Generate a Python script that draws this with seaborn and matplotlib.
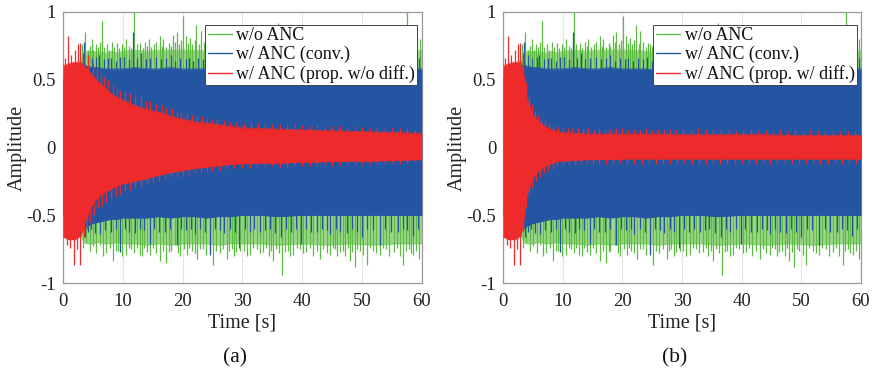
import matplotlib
matplotlib.use("Agg")
import matplotlib.pyplot as plt
import seaborn as sns
import pandas as pd
from matplotlib.lines import Line2D

# ---------------- data ----------------
time_s = [0, 1, 2, 3, 3.5, 4, 5, 6, 7, 8, 9, 10, 12, 14, 16, 18, 20, 22, 24, 26,
          28, 30, 33, 36, 40, 44, 48, 52, 56, 60]

# envelopes of the dense signals (upper / lower)
green_hi = [0.50, 0.55, 0.58, 0.66, 0.70, 0.71, 0.71, 0.71, 0.70, 0.71, 0.70, 0.71, 0.72, 0.71, 0.72,
            0.72, 0.72, 0.72, 0.71, 0.71, 0.71, 0.70, 0.70, 0.70, 0.69, 0.69, 0.69, 0.69, 0.70, 0.72]
green_lo = [-0.50, -0.55, -0.60, -0.66, -0.70, -0.71, -0.71, -0.70, -0.71, -0.71, -0.70, -0.71, -0.71,
            -0.72, -0.71, -0.72, -0.71, -0.71, -0.71, -0.72, -0.71, -0.71, -0.71, -0.72, -0.71, -0.72,
            -0.71, -0.72, -0.71, -0.71]
blue_hi = [0.50, 0.52, 0.55, 0.60, 0.61, 0.60, 0.59, 0.59, 0.58, 0.58, 0.58, 0.58, 0.59, 0.58, 0.58,
           0.59, 0.58, 0.58, 0.58, 0.57, 0.58, 0.58, 0.57, 0.58, 0.57, 0.58, 0.57, 0.57, 0.58, 0.58]
blue_lo = [-0.50, -0.52, -0.55, -0.60, -0.60, -0.58, -0.56, -0.55, -0.54, -0.53, -0.53, -0.52, -0.52,
           -0.52, -0.51, -0.52, -0.51, -0.51, -0.52, -0.51, -0.51, -0.50, -0.50, -0.51, -0.50, -0.50,
           -0.50, -0.50, -0.50, -0.50]
red_a_hi = [0.60, 0.62, 0.63, 0.63, 0.60, 0.58, 0.53, 0.48, 0.44, 0.40, 0.37, 0.35, 0.31, 0.28, 0.26,
            0.23, 0.21, 0.19, 0.18, 0.17, 0.155, 0.145, 0.14, 0.135, 0.13, 0.125, 0.12, 0.115, 0.11, 0.105]
red_a_lo = [-0.66, -0.68, -0.68, -0.65, -0.58, -0.51, -0.41, -0.36, -0.33, -0.31, -0.28, -0.27, -0.25,
            -0.23, -0.205, -0.185, -0.17, -0.155, -0.145, -0.135, -0.125, -0.12, -0.115, -0.115, -0.11,
            -0.105, -0.10, -0.10, -0.095, -0.09]
red_b_hi = [0.60, 0.62, 0.63, 0.63, 0.53, 0.36, 0.24, 0.19, 0.155, 0.135, 0.12, 0.11, 0.105, 0.10, 0.10,
            0.10, 0.10, 0.10, 0.10, 0.10, 0.095, 0.095, 0.095, 0.095, 0.095, 0.095, 0.09, 0.09, 0.09, 0.09]
red_b_lo = [-0.66, -0.68, -0.68, -0.65, -0.53, -0.34, -0.22, -0.17, -0.14, -0.12, -0.105, -0.10, -0.095,
            -0.09, -0.09, -0.09, -0.085, -0.085, -0.085, -0.085, -0.085, -0.085, -0.085, -0.085, -0.085,
            -0.085, -0.085, -0.085, -0.085, -0.085]

# individual peaks sticking out of the envelopes
green_up_t = [3.2, 3.7, 4.1, 4.5, 4.8, 5.1, 5.5, 5.9, 6.2, 6.5, 6.9, 7.3, 7.7, 8.2, 8.6, 9.0, 9.4, 9.8,
              10.2, 10.6, 11.0, 11.4, 11.9, 12.3, 12.9, 13.3, 13.7, 14.0, 14.3, 14.8, 15.2, 15.6, 16.2,
              16.5, 16.8, 17.3, 17.7, 18.0, 18.4, 18.7, 19.0, 19.4, 19.7, 20.1, 20.6, 20.9, 21.2, 21.6,
              22.0, 22.3, 22.7, 23.0, 23.5, 24.0, 24.3, 24.6, 25.0, 25.5, 25.9, 26.4, 26.8, 27.3, 27.7,
              28.2, 28.6, 29.0, 29.5, 30.0, 36.0, 57.5, 58.2, 58.8, 59.2, 59.7]
green_up_v = [0.76, 0.85, 0.72, 0.75, 0.80, 0.72, 0.76, 0.74, 0.78, 0.93, 0.74, 0.76, 0.72, 0.78, 0.74,
              0.77, 0.73, 0.76, 0.74, 0.80, 0.75, 0.73, 1.00, 0.76, 0.77, 0.73, 0.78, 0.75, 0.80, 0.74,
              0.76, 0.78, 0.82, 0.75, 0.80, 0.74, 0.77, 0.75, 0.83, 0.78, 0.85, 0.76, 0.79, 0.97, 0.82,
              0.77, 0.81, 0.76, 0.79, 0.90, 0.76, 0.86, 0.78, 0.74, 0.77, 0.76, 0.75, 0.80, 0.74, 0.78,
              0.75, 0.80, 0.74, 0.76, 0.79, 0.78, 0.74, 0.77, 0.92, 1.00, 0.78, 0.76, 0.82, 0.80]
green_dn_t = [3.3, 3.8, 4.5, 5.0, 5.6, 6.2, 6.7, 7.2, 7.8, 8.4, 8.9, 9.2, 9.8, 10.6, 11.0, 11.4, 11.9,
              12.3, 12.8, 13.2, 13.6, 14.0, 14.5, 15.0, 15.5, 16.2, 16.7, 17.3, 17.7, 18.0, 18.8, 19.2,
              19.6, 20.2, 20.7, 21.1, 21.5, 22.0, 22.4, 22.9, 23.4, 23.9, 24.6, 25.1, 25.6, 26.2, 26.8,
              27.4, 27.8, 28.2, 28.6, 29.0, 29.6, 30.2, 30.7, 31.3, 31.8, 32.4, 32.9, 33.5, 34.0, 34.4,
              34.8, 35.2, 35.7, 36.2, 36.7, 37.2, 37.6, 38.0, 38.5, 39.1, 39.6, 40.2, 40.7, 41.3, 41.8,
              42.4, 43.0, 43.5, 44.1, 44.7, 45.1, 45.5, 45.9, 46.3, 46.8, 47.2, 47.6, 48.0, 48.4, 48.8,
              49.2, 49.6, 50.2, 50.8, 51.3, 51.9, 52.4, 53.0, 53.5, 54.1, 54.6, 55.3, 55.8, 56.3, 56.9,
              57.4, 57.8, 58.2, 58.6, 59.1, 59.6]
green_dn_v = [-0.74, -0.70, -0.76, -0.73, -0.78, -0.72, -0.80, -0.78, -0.74, -0.84, -0.76, -0.76, -0.80,
              -0.79, -0.74, -0.75, -0.78, -0.74, -0.79, -0.80, -0.74, -0.77, -0.79, -0.74, -0.78, -0.84,
              -0.76, -0.855, -0.77, -0.76, -0.72, -0.78, -0.80, -0.75, -0.79, -0.74, -0.76, -0.78, -0.82,
              -0.75, -0.75, -0.79, -0.77, -0.87, -0.76, -0.78, -0.75, -0.82, -0.76, -0.75, -0.80, -0.77,
              -0.76, -0.76, -0.80, -0.79, -0.74, -0.75, -0.78, -0.77, -0.74, -0.80, -0.76, -0.84, -0.75,
              -0.78, -0.94, -0.77, -0.76, -0.80, -0.79, -0.74, -0.75, -0.78, -0.77, -0.74, -0.80, -0.76,
              -0.82, -0.75, -0.78, -0.79, -0.74, -0.75, -0.80, -0.77, -0.76, -0.80, -0.74, -0.84, -0.77,
              -0.88, -0.75, -0.76, -0.79, -0.87, -0.74, -0.76, -0.78, -0.79, -0.74, -0.75, -0.80, -0.77,
              -0.74, -0.80, -0.87, -0.76, -0.75, -0.78, -0.79, -0.76, -0.82]
blue_up_t = [3.5, 4.2, 4.9, 5.6, 6.0, 6.8, 7.5, 8.0, 8.8, 9.5, 10.2, 11.0, 11.7, 12.4, 13.0, 13.8, 14.6,
             15.6, 16.4, 17.2, 18.0, 18.8, 19.6, 20.5, 21.0, 21.8, 22.6, 23.4, 24.2, 25.0, 26.0, 26.8,
             27.8, 28.6, 29.4, 59.0, 59.6]
blue_up_v = [0.78, 0.68, 0.66, 0.67, 0.68, 0.65, 0.66, 0.66, 0.64, 0.67, 0.67, 0.65, 0.85, 0.66, 0.70,
             0.65, 0.66, 0.67, 0.65, 0.66, 0.68, 0.64, 0.66, 0.65, 0.66, 0.64, 0.66, 0.65, 0.67, 0.64,
             0.65, 0.66, 0.65, 0.64, 0.66, 0.70, 0.66]
blue_dn_t = [3.6, 4.2, 4.7, 5.4, 6.2, 7.0, 8.0, 8.8, 9.5, 10.3, 11.0, 12.0, 12.8, 13.6, 14.5, 15.3,
             16.0, 17.0, 17.9, 19.0, 19.8, 20.6, 21.4, 22.0, 22.9, 23.8, 24.6, 25.5, 26.3, 27.0, 27.9,
             28.7, 29.5, 30.4, 31.2, 32.0, 33.0, 33.8, 34.6, 35.5, 36.5, 37.3, 38.1, 39.0, 39.8, 40.6,
             41.5, 42.5, 43.4, 44.2, 44.7, 45.6, 46.4, 47.5, 48.3, 49.1, 50.0, 50.9, 51.8, 53.0, 53.9,
             54.8, 56.0, 56.8, 57.6, 58.5, 59.4]
blue_dn_v = [-0.66, -0.62, -0.60, -0.63, -0.64, -0.61, -0.62, -0.60, -0.77, -0.60, -0.62, -0.63, -0.60,
             -0.61, -0.71, -0.60, -0.62, -0.62, -0.60, -0.72, -0.60, -0.61, -0.60, -0.64, -0.60, -0.62,
             -0.79, -0.60, -0.61, -0.63, -0.60, -0.62, -0.74, -0.60, -0.62, -0.60, -0.62, -0.61, -0.60,
             -0.63, -0.66, -0.60, -0.62, -0.60, -0.71, -0.60, -0.62, -0.62, -0.60, -0.61, -0.64, -0.60,
             -0.62, -0.63, -0.60, -0.62, -0.66, -0.60, -0.61, -0.72, -0.60, -0.62, -0.62, -0.60, -0.61,
             -0.65, -0.60]
red_a_up_t = [0.3, 0.9, 1.4, 2.0, 2.5, 2.9, 3.4, 4.2, 5.0, 5.7, 6.3, 6.8, 7.5, 8.3, 9.0, 9.6, 10.4, 11.2,
              12.0, 13.0, 13.8, 14.6, 15.5, 16.5, 17.3, 18.2, 19.0, 19.8, 20.8, 21.6, 22.4, 23.2, 24.0,
              25.0, 25.8, 27.0, 28.0, 29.0, 30.2, 31.5, 32.6, 33.8, 35.0, 36.3, 37.5, 38.8, 40.0, 41.3,
              42.5, 43.8, 45.0, 46.3, 47.5, 48.8, 50.0, 51.3, 52.5, 53.8, 55.0, 56.3, 57.5, 58.8]
red_a_up_v = [0.66, 0.82, 0.68, 0.72, 0.76, 0.77, 0.70, 0.68, 0.62, 0.58, 0.55, 0.52, 0.50, 0.47, 0.44,
              0.42, 0.42, 0.40, 0.38, 0.37, 0.34, 0.34, 0.32, 0.31, 0.29, 0.29, 0.27, 0.26, 0.25, 0.24,
              0.23, 0.23, 0.22, 0.21, 0.21, 0.20, 0.19, 0.19, 0.18, 0.185, 0.18, 0.175, 0.17, 0.175,
              0.165, 0.17, 0.165, 0.16, 0.165, 0.155, 0.16, 0.155, 0.15, 0.155, 0.15, 0.145, 0.15, 0.14,
              0.145, 0.14, 0.14, 0.135]
red_a_dn_t = [0.6, 1.2, 1.9, 2.4, 2.9, 3.5, 4.0, 4.5, 5.2, 5.8, 6.5, 7.2, 8.0, 8.8, 9.6, 10.4, 11.2,
              12.0, 13.0, 14.0, 15.0, 16.0, 17.0, 18.0, 19.0, 20.0, 21.0, 22.0, 23.0, 24.0, 25.0, 26.2,
              27.4, 28.6, 30.0, 31.3, 32.5, 33.8, 35.0, 36.3, 37.5, 38.8, 40.0, 41.3, 42.5, 43.8, 45.0,
              46.3, 47.5, 48.8, 50.0, 51.3, 52.5, 53.8, 55.0, 56.3, 57.5, 58.8]
red_a_dn_v = [-0.72, -0.74, -0.87, -0.75, -0.87, -0.66, -0.60, -0.55, -0.50, -0.45, -0.43, -0.40, -0.38,
              -0.36, -0.34, -0.32, -0.31, -0.30, -0.29, -0.27, -0.26, -0.25, -0.23, -0.22, -0.22, -0.21,
              -0.20, -0.19, -0.185, -0.18, -0.17, -0.165, -0.16, -0.155, -0.15, -0.15, -0.145, -0.15,
              -0.14, -0.145, -0.15, -0.14, -0.14, -0.135, -0.14, -0.13, -0.135, -0.13, -0.125, -0.13,
              -0.125, -0.12, -0.125, -0.12, -0.115, -0.12, -0.115, -0.11]
red_b_up_t = [0.3, 0.9, 1.4, 2.0, 2.5, 2.9, 3.3, 3.8, 4.3, 4.8, 5.3, 5.8, 6.4, 7.0, 7.7, 8.4, 9.2, 10.0,
              10.8, 11.6, 12.5, 13.4, 14.3, 15.2, 16.1, 17.0, 18.0, 19.0, 20.0, 21.0, 22.0, 23.0, 24.0,
              25.0, 26.0, 27.0, 28.0, 29.0, 30.2, 31.5, 32.7, 34.0, 35.2, 36.5, 37.8, 39.0, 40.3, 41.5,
              42.8, 44.0, 45.3, 46.5, 47.8, 49.0, 50.3, 51.5, 52.8, 54.0, 55.3, 56.5, 57.8, 59.0]
red_b_up_v = [0.66, 0.82, 0.68, 0.72, 0.76, 0.77, 0.70, 0.48, 0.38, 0.32, 0.27, 0.24, 0.21, 0.20, 0.18,
              0.16, 0.15, 0.15, 0.14, 0.145, 0.14, 0.135, 0.14, 0.13, 0.145, 0.13, 0.135, 0.14, 0.145,
              0.13, 0.135, 0.13, 0.14, 0.13, 0.135, 0.13, 0.135, 0.13, 0.135, 0.13, 0.14, 0.13, 0.135,
              0.13, 0.135, 0.125, 0.13, 0.135, 0.125, 0.13, 0.125, 0.13, 0.125, 0.13, 0.125, 0.13, 0.125,
              0.12, 0.125, 0.12, 0.125, 0.12]
red_b_dn_t = [0.6, 1.2, 1.9, 2.4, 2.9, 3.4, 3.9, 4.4, 4.9, 5.5, 6.1, 6.8, 7.5, 8.3, 9.1, 10.0, 11.0,
              12.0, 13.0, 14.0, 15.0, 16.0, 17.2, 18.4, 19.6, 20.8, 22.0, 23.2, 24.4, 25.6, 26.8, 28.0,
              29.2, 30.4, 31.6, 32.8, 34.0, 35.2, 36.4, 37.6, 38.8, 40.0, 41.2, 42.4, 43.6, 44.8, 46.0,
              47.2, 48.4, 49.6, 50.8, 52.0, 53.2, 54.4, 55.6, 56.8, 58.0, 59.2]
red_b_dn_v = [-0.72, -0.74, -0.87, -0.75, -0.87, -0.62, -0.44, -0.36, -0.30, -0.25, -0.22, -0.19, -0.17,
              -0.16, -0.14, -0.13, -0.125, -0.13, -0.12, -0.125, -0.12, -0.13, -0.12, -0.125, -0.115,
              -0.12, -0.125, -0.12, -0.115, -0.125, -0.12, -0.12, -0.125, -0.115, -0.12, -0.125, -0.12,
              -0.115, -0.12, -0.125, -0.12, -0.115, -0.12, -0.125, -0.115, -0.12, -0.12, -0.125, -0.115,
              -0.12, -0.125, -0.115, -0.12, -0.12, -0.115, -0.12, -0.125, -0.115]

series_labels = ["w/o ANC", "w/ ANC (conv.)"]
red_labels = ["w/ ANC (prop. w/o diff.)", "w/ ANC (prop. w/ diff.)"]
panel_tags = ["(a)", "(b)"]
x_ticks = [0, 10, 20, 30, 40, 50, 60]
y_ticks = [-1, -0.5, 0, 0.5, 1]
y_tick_labels = ["-1", "-0.5", "0", "0.5", "1"]

# ---------------- styling ----------------
GREEN = "#5DBB42"
BLUE = "#2355A3"
RED = "#EE2A2B"

sns.set_theme(style="white")
plt.rcParams["font.family"] = ["Liberation Serif", "DejaVu Serif"]

fig = plt.figure(figsize=(8.75, 3.71), dpi=100)
ax_a = fig.add_axes([0.072, 0.237, 0.410, 0.731])
ax_b = fig.add_axes([0.575, 0.237, 0.409, 0.731])


def draw_band(ax, hi, lo, up_t, up_v, dn_t, dn_v, color, z, body_alpha=1.0):
    df = pd.DataFrame({"t": time_s, "hi": hi, "lo": lo})
    ax.fill_between(df["t"], df["lo"], df["hi"], color=color, alpha=body_alpha,
                    linewidth=0, zorder=z)
    sns.lineplot(data=df, x="t", y="hi", ax=ax, color=color, alpha=body_alpha,
                 linewidth=0.5, zorder=z)
    sns.lineplot(data=df, x="t", y="lo", ax=ax, color=color, alpha=body_alpha,
                 linewidth=0.5, zorder=z)
    ax.vlines(up_t, 0, up_v, colors=color, linewidth=0.9, zorder=z)
    ax.vlines(dn_t, dn_v, 0, colors=color, linewidth=0.9, zorder=z)


red_sets = [(red_a_hi, red_a_lo, red_a_up_t, red_a_up_v, red_a_dn_t, red_a_dn_v),
            (red_b_hi, red_b_lo, red_b_up_t, red_b_up_v, red_b_dn_t, red_b_dn_v)]

for i, ax in enumerate([ax_a, ax_b]):
    draw_band(ax, green_hi, green_lo, green_up_t, green_up_v, green_dn_t, green_dn_v,
              GREEN, 2, body_alpha=0.6)
    draw_band(ax, blue_hi, blue_lo, blue_up_t, blue_up_v, blue_dn_t, blue_dn_v, BLUE, 3)
    draw_band(ax, *red_sets[i], RED, 4)

    ax.set_xlim(0, 60)
    ax.set_ylim(-1, 1)
    ax.set_xticks(x_ticks)
    ax.set_xticklabels([str(v) for v in x_ticks])
    ax.set_yticks(y_ticks)
    ax.set_yticklabels(y_tick_labels)
    ax.grid(True, color="#e4e4e4", linewidth=0.8, zorder=0)
    ax.set_axisbelow(True)
    for sp in ax.spines.values():
        sp.set_color("#9a9a9a")
        sp.set_linewidth(0.9)
    ax.tick_params(axis="both", labelsize=13.5, labelcolor="#222222", direction="in",
                   length=3, width=0.6, pad=5, color="#9a9a9a")
    ax.tick_params(axis="x", pad=7)
    ax.set_xlabel("Time [s]", fontsize=14.5, color="#222222", labelpad=3)
    ax.set_ylabel("Amplitude", fontsize=14.5, color="#222222", labelpad=0)

    handles = [Line2D([0], [0], color=GREEN, lw=1.0),
               Line2D([0], [0], color=BLUE, lw=1.0),
               Line2D([0], [0], color=RED, lw=1.0)]
    leg = ax.legend(handles, [series_labels[0], series_labels[1], red_labels[i]],
                    loc="upper right", bbox_to_anchor=(0.988, 0.952), fontsize=13,
                    frameon=True, fancybox=False, framealpha=1, edgecolor="#444444",
                    handlelength=1.35, handletextpad=0.25, borderpad=0.12, labelspacing=0.1,
                    borderaxespad=0.0)
    leg.get_frame().set_linewidth(0.7)
    leg.set_zorder(10)
    for txt in leg.get_texts():
        txt.set_color("#111111")

fig.text(0.269, 0.035, panel_tags[0], fontsize=15.5, ha="center", va="center", color="#111111")
fig.text(0.771, 0.035, panel_tags[1], fontsize=15.5, ha="center", va="center", color="#111111")

fig.savefig("out.png", dpi=100)
